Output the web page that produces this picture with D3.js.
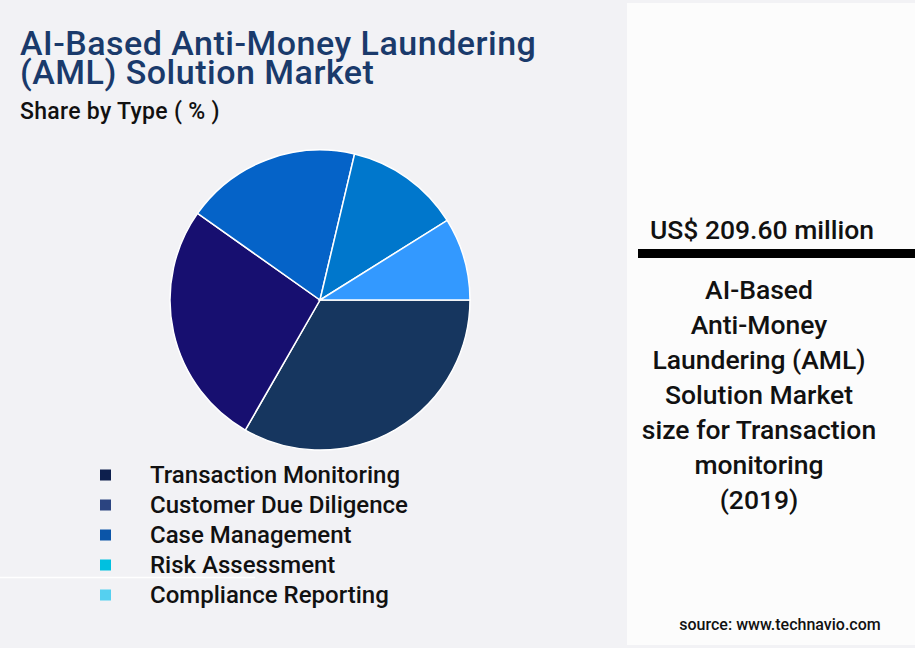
<!DOCTYPE html>
<html><head><meta charset="utf-8">
<script src="https://cdn.jsdelivr.net/npm/d3@7/dist/d3.min.js"></script>
<style>
html,body{margin:0;padding:0;background:#f2f2f5;}
svg{display:block;font-family:Roboto,"Open Sans",sans-serif;}
</style></head>
<body>
<svg id="chart" width="915" height="648"></svg>
<script>
const categories = ["Transaction Monitoring","Customer Due Diligence","Case Management","Risk Assessment","Compliance Reporting"];
const shares = [33.3, 26.5, 18.9, 12.4, 8.9];
const sliceColors = ["#16365f","#170f70","#0563c8","#0077cc","#3399ff"];
const legendColors = ["#0d1f4d","#2b4480","#0b55a8","#00c0e0","#55d0f0"];
const titleLines = ["AI-Based Anti-Money Laundering","(AML) Solution Market"];
const subtitle = "Share by Type ( % )";
const headline = "US$ 209.60 million";
const descLines = ["AI-Based","Anti-Money","Laundering (AML)","Solution Market","size for Transaction","monitoring","(2019)"];
const source = "source: www.technavio.com";

const svg = d3.select("#chart");
svg.append("rect").attr("width",915).attr("height",648).attr("fill","#f2f2f5");

// right panel
svg.append("rect").attr("x",627).attr("y",3).attr("width",288).attr("height",642).attr("fill","#fcfcfc");
svg.append("line").attr("x1",0).attr("x2",255).attr("y1",577.5).attr("y2",577.5).attr("stroke","#ffffff").attr("stroke-width",1.5);

// title
svg.selectAll("text.title").data(titleLines).join("text")
  .attr("x",20).attr("y",(d,i)=>55+i*28.5)
  .attr("fill","#1a3a6b").attr("font-size",34).attr("font-weight",500).attr("letter-spacing",0.5)
  .text(d=>d);
svg.append("text").attr("x",20).attr("y",119).attr("font-size",23).attr("font-weight",500)
  .attr("letter-spacing",0.3).attr("fill","#111").text(subtitle);

// pie
const cx=320, cy=300, R=150;
const pie = d3.pie().sort(null).startAngle(Math.PI/2).endAngle(Math.PI/2+2*Math.PI);
const arc = d3.arc().innerRadius(0).outerRadius(R);
const g = svg.append("g").attr("transform",`translate(${cx},${cy})`);
g.selectAll("path").data(pie(shares)).join("path")
  .attr("d",arc).attr("fill",(d,i)=>sliceColors[i])
  .attr("stroke","#ffffff").attr("stroke-width",1.5);

// legend
const ly = d3.scaleBand().domain(categories).range([460,610]);
const lg = svg.append("g");
lg.selectAll("rect").data(categories).join("rect")
  .attr("x",100).attr("y",d=>ly(d)+ly.bandwidth()/2-5.5).attr("width",11).attr("height",11)
  .attr("fill",(d,i)=>legendColors[i]);
lg.selectAll("text").data(categories).join("text")
  .attr("x",150).attr("y",d=>ly(d)+ly.bandwidth()/2+8)
  .attr("font-size",24).attr("font-weight",500).attr("fill","#111").text(d=>d);

// right panel text
svg.append("text").attr("x",762).attr("y",239).attr("text-anchor","middle")
  .attr("font-size",26.5).attr("font-weight",500).attr("fill","#111").text(headline);
svg.append("rect").attr("x",638).attr("y",249).attr("width",277).attr("height",9).attr("fill","#000");
svg.selectAll("text.desc").data(descLines).join("text")
  .attr("x",759).attr("y",(d,i)=>299+i*35).attr("text-anchor","middle")
  .attr("font-size",26.5).attr("font-weight",500).attr("fill","#111").text(d=>d);
svg.append("text").attr("x",780).attr("y",630).attr("text-anchor","middle")
  .attr("font-size",16).attr("font-weight",500).attr("fill","#111").text(source);
</script>
</body></html>
